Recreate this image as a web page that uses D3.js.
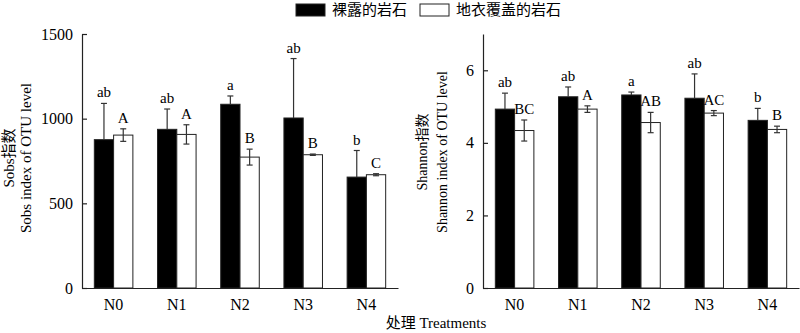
<!DOCTYPE html>
<html>
<head>
<meta charset="utf-8">
<script src="https://cdn.jsdelivr.net/npm/d3@7"></script>
<style>
  body { margin: 0; background: #fff; }
  svg { display: block; }
  text { font-family: "Liberation Serif", "Times New Roman", "Noto Sans CJK SC", serif; fill: #000; }
</style>
</head>
<body>
<div id="chart"></div>
<script>
const treatments = ["N0", "N1", "N2", "N3", "N4"];
const groups = ["bare", "lichen"];
const legendLabels = ["裸露的岩石", "地衣覆盖的岩石"];

// Sobs
const sobsBare = [876, 937, 1085, 1004, 655];
const sobsBareErr = [214, 120, 49, 351, 157];
const sobsLichen = [903, 907, 773, 787, 669];
const sobsLichenErr = [37, 57, 47, 4, 6];
const sobsBareLetters = ["ab", "ab", "a", "ab", "b"];
const sobsLichenLetters = ["A", "A", "B", "B", "C"];
const sobsTicks = [0, 500, 1000, 1500];

// Shannon
const shannonBare = [4.93, 5.27, 5.32, 5.23, 4.62];
const shannonBareErr = [0.44, 0.27, 0.08, 0.67, 0.33];
const shannonLichen = [4.34, 4.93, 4.56, 4.82, 4.37];
const shannonLichenErr = [0.29, 0.09, 0.28, 0.07, 0.09];
const shannonBareLetters = ["ab", "ab", "a", "ab", "b"];
const shannonLichenLetters = ["BC", "A", "AB", "AC", "B"];
const shannonTicks = [0, 2, 4, 6];

const width = 800, height = 333;
const svg = d3.select("#chart").append("svg").attr("width", width).attr("height", height);

function panel({ left, right, max, ticks, bare, bareErr, lichen, lichenErr, bareLetters, lichenLetters, title1, title2, titleX, titleY, titleSize, titleGap }) {
  const g = svg.append("g");
  const y = d3.scaleLinear().domain([0, max]).range([288, 34]);
  const x0 = d3.scaleBand().domain(treatments).range([left, right]).paddingInner(0.39).paddingOuter(0.195);
  const x1 = d3.scaleBand().domain(groups).range([0, x0.bandwidth()]);

  const rows = treatments.flatMap((t, i) => [
    { t, key: "bare", value: bare[i], err: bareErr[i], letter: bareLetters[i] },
    { t, key: "lichen", value: lichen[i], err: lichenErr[i], letter: lichenLetters[i] },
  ]);
  const cx = (d) => x0(d.t) + x1(d.key) + x1.bandwidth() / 2;

  g.selectAll("rect.bar")
    .data(rows)
    .join("rect")
    .attr("class", "bar")
    .attr("x", (d) => x0(d.t) + x1(d.key))
    .attr("y", (d) => y(d.value))
    .attr("width", x1.bandwidth())
    .attr("height", (d) => y(0) - y(d.value))
    .attr("fill", (d) => (d.key === "bare" ? "#000" : "#fff"))
    .attr("stroke", "#222")
    .attr("stroke-width", 1);

  // error bars: black bars hide the lower half, so only the upper half is drawn there
  const eb = g.selectAll("g.err").data(rows).join("g").attr("class", "err")
    .attr("stroke", "#333")
    .attr("stroke-width", 1.2);
  eb.append("line")
    .attr("x1", cx).attr("x2", cx)
    .attr("y1", (d) => y(d.key === "bare" ? d.value : d.value - d.err))
    .attr("y2", (d) => y(d.value + d.err));
  eb.append("line")
    .attr("x1", (d) => cx(d) - 3).attr("x2", (d) => cx(d) + 3)
    .attr("y1", (d) => y(d.value + d.err)).attr("y2", (d) => y(d.value + d.err));
  eb.filter((d) => d.key === "lichen").append("line")
    .attr("x1", (d) => cx(d) - 3).attr("x2", (d) => cx(d) + 3)
    .attr("y1", (d) => y(d.value - d.err)).attr("y2", (d) => y(d.value - d.err));

  g.selectAll("text.letter")
    .data(rows)
    .join("text")
    .attr("class", "letter")
    .attr("x", cx)
    .attr("y", (d) => y(d.value + d.err) - 6)
    .attr("text-anchor", "middle")
    .style("font-size", "15px")
    .text((d) => d.letter);

  const yAxis = g.append("g")
    .attr("transform", `translate(${left},0)`)
    .call(d3.axisLeft(y).tickValues(ticks).tickFormat(d3.format("d")).tickSizeInner(-5).tickSizeOuter(0).tickPadding(9));
  const xAxis = g.append("g")
    .attr("transform", `translate(0,${y(0)})`)
    .call(d3.axisBottom(x0).tickSize(0).tickPadding(11));
  [yAxis, xAxis].forEach((a) => {
    a.attr("font-family", null).attr("font-size", null);
    a.selectAll("path, line").attr("stroke", "#222").attr("stroke-width", 1.2);
    a.selectAll("text").style("font-size", "16px").attr("fill", "#000");
  });

  const yt = g.append("text")
    .attr("transform", `translate(${titleX},${titleY}) rotate(-90)`)
    .attr("text-anchor", "middle")
    .style("font-size", titleSize + "px");
  yt.append("tspan").attr("x", 0).attr("dy", 0).text(title1);
  yt.append("tspan").attr("x", 0).attr("dy", titleGap).text(title2);
}

panel({
  left: 82, right: 398, max: 1500, ticks: sobsTicks,
  bare: sobsBare, bareErr: sobsBareErr, lichen: sobsLichen, lichenErr: sobsLichenErr,
  bareLetters: sobsBareLetters, lichenLetters: sobsLichenLetters,
  title1: "Sobs指数", title2: "Sobs index of OTU level", titleX: 14, titleY: 158, titleSize: 15, titleGap: 16.5,
});
panel({
  left: 483, right: 799, max: 7, ticks: shannonTicks,
  bare: shannonBare, bareErr: shannonBareErr, lichen: shannonLichen, lichenErr: shannonLichenErr,
  bareLetters: shannonBareLetters, lichenLetters: shannonLichenLetters,
  title1: "Shannon指数", title2: "Shannon index of OTU level", titleX: 427, titleY: 152, titleSize: 14, titleGap: 20,
});

// legend
const legend = svg.append("g");
const legendX = [296, 420];
legend.selectAll("rect")
  .data(legendLabels)
  .join("rect")
  .attr("x", (d, i) => legendX[i])
  .attr("y", 4)
  .attr("width", 29)
  .attr("height", 12)
  .attr("fill", (d, i) => (i === 0 ? "#000" : "#fff"))
  .attr("stroke", "#222");
legend.selectAll("text")
  .data(legendLabels)
  .join("text")
  .attr("x", (d, i) => legendX[i] + 36)
  .attr("y", 15)
  .style("font-size", "15px")
  .text((d) => d);

svg.append("text")
  .attr("x", 436)
  .attr("y", 328)
  .attr("text-anchor", "middle")
  .style("font-size", "15px")
  .text("处理 Treatments");
</script>
</body>
</html>
